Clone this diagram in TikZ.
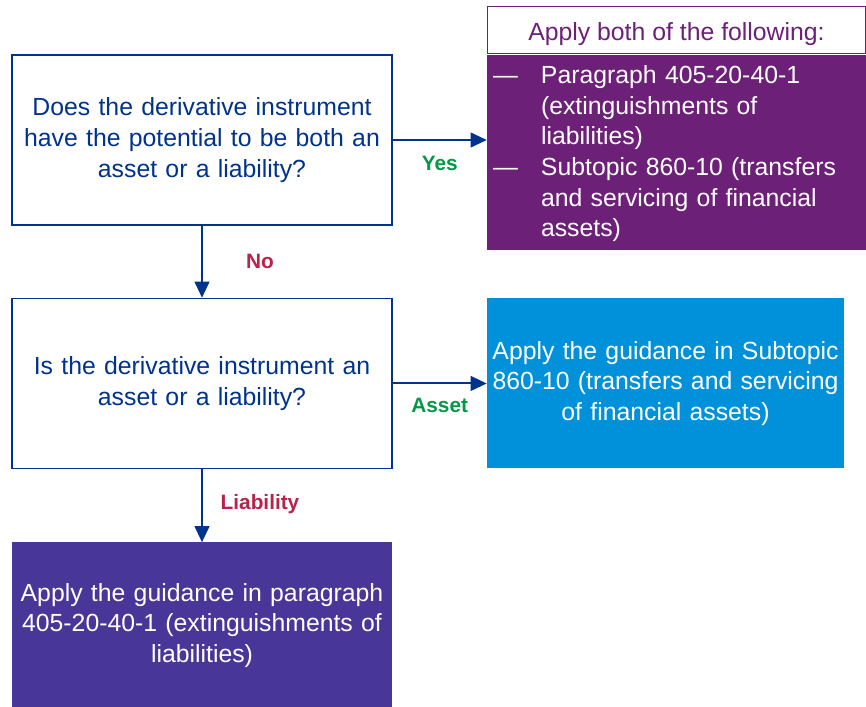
\documentclass[tikz,border=0pt]{standalone}
\usepackage{fontspec}
\setmainfont{Liberation Sans}
\usetikzlibrary{shapes,arrows.meta,positioning,calc}
\definecolor{kblue}{HTML}{00338D}
\definecolor{kpurple}{HTML}{6D2077}
\definecolor{kcyan}{HTML}{0091DA}
\definecolor{kviolet}{HTML}{483698}
\definecolor{kgreen}{HTML}{009A44}
\definecolor{kred}{HTML}{BC204B}

\begin{document}
\begin{tikzpicture}[node distance=54pt]
\tikzstyle{question} = [rectangle, draw=kblue, line width=1.1pt, fill=white, text=kblue, text width=280pt, align=center, minimum width=285pt, minimum height=127.5pt, inner sep=0pt, font=\fontsize{18.6pt}{23.25pt}\selectfont]
\tikzstyle{result} = [rectangle, text=white, align=center, inner sep=0pt, font=\fontsize{18.6pt}{23pt}\selectfont]
\tikzstyle{line} = [draw=kblue, line width=1.5pt, -{Triangle[length=12pt,width=11pt]}]
\tikzstyle{answer} = [font=\fontsize{15.6pt}{18pt}\bfseries\selectfont, inner sep=0pt, anchor=center]

\useasboundingbox (0,0) rectangle (649.5pt,-529.5pt);

\node [question] (q1) at (151.5pt,-105pt) {Does the derivative instrument\\ have the potential to be both an\\ asset or a liability?};
\node [question, below=54pt of q1] (q2) {Is the derivative instrument an\\ asset or a liability?};
\node [result, fill=kviolet, below=54.75pt of q2, text width=284pt, minimum width=285pt, minimum height=124.5pt] (liab) {Apply the guidance in paragraph\\ 405-20-40-1 (extinguishments of\\ liabilities)};
\node [result, fill=kcyan, right=70.5pt of q2, text width=267.5pt, minimum width=267.75pt, minimum height=127.5pt] (asset) {Apply the guidance in Subtopic\\ 860-10 (transfers and servicing\\ of financial assets)};
\node [result, fill=kpurple, anchor=north west, align=left, text width=276pt, inner xsep=4.5pt, minimum height=146.25pt] (both) at ([xshift=70.5pt]q1.north east) {%
\begin{tabular}{@{}p{36pt}@{}l@{}}
\rule{0pt}{19.1pt}\textemdash & Paragraph 405-20-40-1\\
 & (extinguishments of\\
 & liabilities)\\
\textemdash & Subtopic 860-10 (transfers\\
 & and servicing of financial\\
 & assets)
\end{tabular}};
\node [result, draw=kpurple, line width=0.8pt, fill=white, text=kpurple, above=0pt of both, minimum width=284pt, minimum height=35.25pt, text height=16pt, text depth=0pt, xshift=-0.4pt] (head) {Apply both of the following:};

\path [line] (q1.east) -- node [answer, text=kgreen, midway, yshift=-17.25pt] {Yes} (q1.east -| both.west);
\path [line] (q1) -- node [answer, text=kred, midway, xshift=43.5pt] {No} (q2);
\path [line] (q2) -- node [answer, text=kgreen, midway, yshift=-16.5pt] {Asset} (asset);
\path [line] (q2) -- node [answer, text=kred, midway, xshift=43.5pt, yshift=1.5pt] {Liability} (liab);

\end{tikzpicture}
\end{document}
